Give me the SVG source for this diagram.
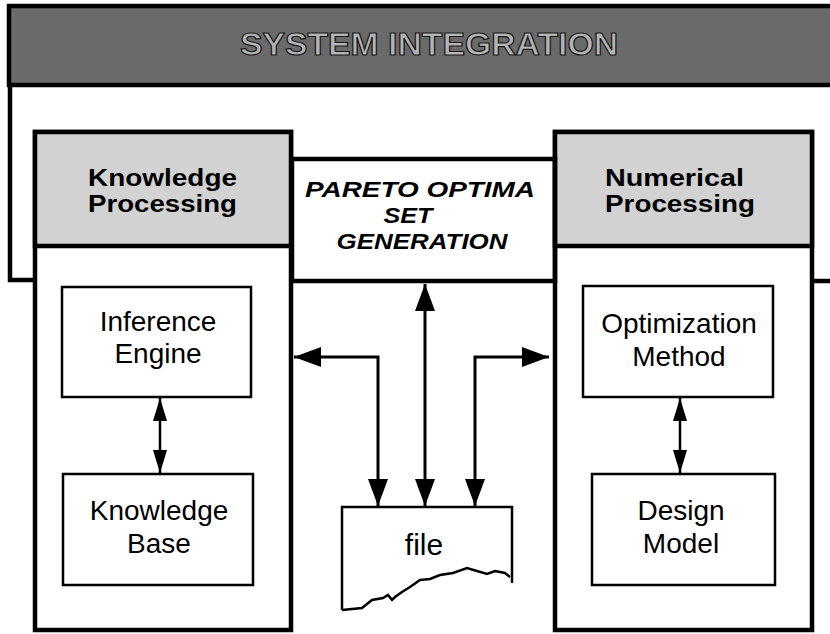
<svg xmlns="http://www.w3.org/2000/svg" width="830" height="634" viewBox="0 0 830 634">
<style>
  .heavy { fill: none; stroke: #000; stroke-width: 4.5; }
  .box { fill: #fff; stroke: #000; stroke-width: 2.5; }
  .hdr { fill: #d2d2d2; stroke: #000; stroke-width: 4.5; }
  .conn { fill: none; stroke: #000; stroke-width: 3; }
  .sconn { fill: none; stroke: #000; stroke-width: 2.5; }
  .bold { font-family: "Liberation Sans", Arial, sans-serif; font-weight: bold; font-size: 23px; fill: #000; }
  .ital { font-family: "Liberation Sans", Arial, sans-serif; font-weight: bold; font-style: italic; font-size: 22.5px; fill: #000; text-anchor: middle; }
  .reg { font-family: "Liberation Sans", Arial, sans-serif; font-size: 28px; fill: #000; text-anchor: middle; }
  .banner { font-family: "Liberation Sans", Arial, sans-serif; font-weight: bold; font-size: 32px; fill: #b4b4b4; stroke: #1a1a1a; stroke-width: 1.2; }
</style>
<defs>
  <marker id="big" markerUnits="userSpaceOnUse" markerWidth="28" markerHeight="22" viewBox="0 0 28 22" refX="27" refY="11" orient="auto-start-reverse">
    <polygon points="0,1 27,11 0,21" fill="#000"/>
  </marker>
  <marker id="small" markerUnits="userSpaceOnUse" markerWidth="24" markerHeight="16" viewBox="0 0 24 16" refX="23" refY="8" orient="auto-start-reverse">
    <polygon points="0,1 23,8 0,15" fill="#000"/>
  </marker>
</defs>

<g id="system-integration">
  <rect x="9" y="6" width="830" height="79" fill="#6a6a6a" stroke="#000" stroke-width="4.5"/>
  <text class="banner" x="240" y="55" textLength="378" lengthAdjust="spacingAndGlyphs">SYSTEM INTEGRATION</text>
  <polyline class="heavy" points="10,85 10,280 35,280"/>
  <line class="heavy" x1="812" y1="281" x2="832" y2="281"/>
</g>

<g id="knowledge-processing">
  <rect class="heavy" x="35" y="132" width="256" height="498" fill="#fff"/>
  <rect class="hdr" x="35" y="132" width="256" height="114"/>
  <text class="bold" x="88" y="186" textLength="149" lengthAdjust="spacingAndGlyphs">Knowledge</text>
  <text class="bold" x="88" y="212" textLength="149" lengthAdjust="spacingAndGlyphs">Processing</text>
</g>

<g id="numerical-processing">
  <rect class="heavy" x="555" y="132" width="257" height="498" fill="#fff"/>
  <rect class="hdr" x="555" y="132" width="257" height="114"/>
  <text class="bold" x="605" y="186" textLength="139" lengthAdjust="spacingAndGlyphs">Numerical</text>
  <text class="bold" x="605" y="212" textLength="150" lengthAdjust="spacingAndGlyphs">Processing</text>
</g>

<g id="pareto">
  <rect class="heavy" x="292" y="159" width="263" height="122" fill="#fff"/>
  <text class="ital" x="420" y="197" textLength="230" lengthAdjust="spacingAndGlyphs">PARETO OPTIMA</text>
  <text class="ital" x="408" y="223" textLength="49" lengthAdjust="spacingAndGlyphs">SET</text>
  <text class="ital" x="422" y="249" textLength="171" lengthAdjust="spacingAndGlyphs">GENERATION</text>
</g>

<g id="inference-engine">
  <rect class="box" x="62" y="287" width="189" height="110"/>
  <text class="reg" x="158" y="331">Inference</text>
  <text class="reg" x="158" y="363">Engine</text>
</g>

<g id="knowledge-base">
  <rect class="box" x="63" y="474" width="190" height="111"/>
  <text class="reg" x="159" y="520">Knowledge</text>
  <text class="reg" x="159" y="553">Base</text>
</g>

<g id="optimization-method">
  <rect class="box" x="583" y="286" width="190" height="111"/>
  <text class="reg" x="679" y="333">Optimization</text>
  <text class="reg" x="679" y="366">Method</text>
</g>

<g id="design-model">
  <rect class="box" x="592" y="474" width="183" height="111"/>
  <text class="reg" x="681" y="520">Design</text>
  <text class="reg" x="681" y="553">Model</text>
</g>

<g id="file">
  <path d="M342,610 L342,507 L512,507 L512,583" fill="none" stroke="#000" stroke-width="2.5"/>
  <polyline fill="none" stroke="#000" stroke-width="2.5" points="342,610 362,608 372,600 383,598 388,595 392,600 395,597 402,592 410,587 420,580 430,579 440,575 453,573 467,568 477,571 487,574 495,571 505,573 510,577"/>
  <text class="reg" x="424" y="555" style="font-size:30px">file</text>
</g>

<g id="connectors">
  <line class="conn" x1="425" y1="284" x2="425" y2="506" marker-start="url(#big)" marker-end="url(#big)"/>
  <polyline class="conn" points="378,506 378,357 294,357" marker-start="url(#big)" marker-end="url(#big)"/>
  <polyline class="conn" points="475,506 475,357 549,357" marker-start="url(#big)" marker-end="url(#big)"/>
  <line class="sconn" x1="160" y1="398" x2="160" y2="473" marker-start="url(#small)" marker-end="url(#small)"/>
  <line class="sconn" x1="680" y1="398" x2="680" y2="473" marker-start="url(#small)" marker-end="url(#small)"/>
</g>
</svg>
